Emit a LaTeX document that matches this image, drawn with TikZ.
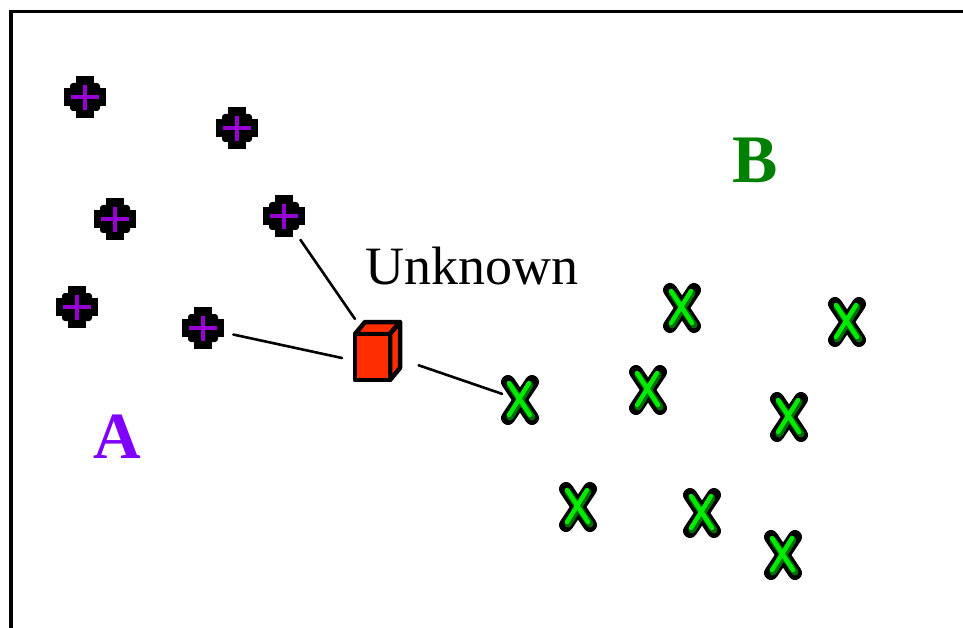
\documentclass[tikz,border=0pt]{standalone}
\usepackage{fontspec}
\setmainfont{Liberation Serif}
\usetikzlibrary{calc}

\definecolor{plusviolet}{RGB}{150,0,210}
\definecolor{labelviolet}{RGB}{128,0,255}
\definecolor{crossgreen}{RGB}{0,235,0}
\definecolor{crossdark}{RGB}{0,110,0}
\definecolor{labelgreen}{RGB}{0,128,0}
\definecolor{cubered}{RGB}{255,45,0}

\tikzset{
  link/.style={line width=2.6pt, black, line cap=round},
  plusmark/.pic={
    \draw[line width=18pt, black, line cap=butt, line join=round] (-21,0) -- (21,0) (0,-21) -- (0,21);
    \fill[black, rounded corners=3pt] (-15,-14) rectangle (15,14);
    \draw[line width=4.5pt, plusviolet, line cap=butt] (-14,0) -- (14,0) (0,-12) -- (0,13);
  },
  crossmark/.pic={
    \draw[line width=14pt, black, line cap=round] (-12,-18) -- (12,18) (12,-18) -- (-12,18);
    \draw[line width=7pt, crossdark, line cap=round] (-10,-15) -- (12,17) (10,-15) -- (-10,17);
    \draw[line width=4.5pt, crossgreen, line cap=round] (-11,-17) -- (10,15) (9,-17) -- (-11,15);
  },
  cubemark/.pic={
    \begin{scope}[fill=cubered, draw=black, line width=4.5pt, line join=round]
      \filldraw (-22,-17) -- (-12,-29) -- (23,-29) -- (13,-17) -- cycle;
      \filldraw (13,-17) -- (23,-29) -- (23,17) -- (13,29) -- cycle;
      \filldraw (-22,-17) rectangle (13,29);
    \end{scope}
  }
}

\begin{document}
\begin{tikzpicture}[x=1pt, y=-1pt]
  \useasboundingbox (0,0) rectangle (963,628);

  % frame
  \draw[line width=3.5pt] (11,640) -- (11,11.5) -- (975,11.5);

  % class A samples
  \coordinate (p1) at (85,97);
  \coordinate (p2) at (237,128);
  \coordinate (p3) at (115,219);
  \coordinate (p4) at (284,216);
  \coordinate (p5) at (77,307);
  \coordinate (p6) at (203,328);

  % class B samples
  \coordinate (x1) at (682,308);
  \coordinate (x2) at (847,322);
  \coordinate (x3) at (648,390);
  \coordinate (x4) at (520,400);
  \coordinate (x5) at (789,417);
  \coordinate (x6) at (578,507);
  \coordinate (x7) at (702,513);
  \coordinate (x8) at (783,555);

  % unknown sample
  \coordinate (cube) at (377,351);
  \coordinate (cubeL) at (342,358);

  % nearest-neighbour links
  \draw[link, shorten <=29pt, shorten >=39pt] (p4) -- (cube);
  \draw[link, shorten <=31pt] (p6) -- (cubeL);
  \draw[link, shorten <=44pt, shorten >=19pt] (cube) -- (x4);

  \foreach \p in {p1,p2,p3,p4,p5,p6} \pic at (\p) {plusmark};
  \foreach \x in {x1,x2,x3,x4,x5,x6,x7,x8} \pic at (\x) {crossmark};
  \pic at (cube) {cubemark};

  % labels
  \node[anchor=base west, inner sep=0pt, font=\fontsize{54}{62}\selectfont] (unk) at (365,284) {Unknown};
  \node[anchor=base west, inner sep=0pt, text=labelgreen, font=\fontsize{68}{80}\selectfont\bfseries] (lblB) at (732,183) {B};
  \node[anchor=base west, inner sep=0pt, text=labelviolet, font=\fontsize{66}{80}\selectfont\bfseries] (lblA) at (93,458) {A};
\end{tikzpicture}
\end{document}
